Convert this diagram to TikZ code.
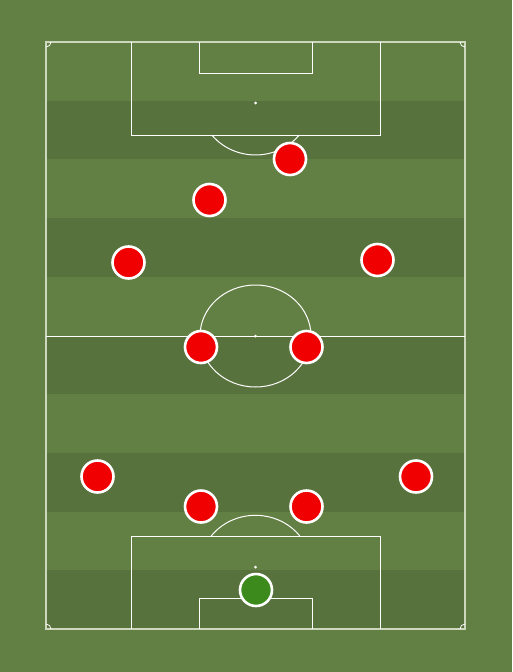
\documentclass[tikz,border=0pt]{standalone}
\definecolor{pitchlight}{RGB}{99,128,68}
\definecolor{pitchdark}{RGB}{88,114,62}
\definecolor{playerred}{RGB}{240,0,0}
\definecolor{keepergreen}{RGB}{60,138,28}
\definecolor{outerline}{RGB}{205,215,190}
\tikzset{
  pline/.style={draw=white, line width=1pt},
  oline/.style={draw=outerline, line width=1.2pt},
  player/.style={circle, draw=white, line width=2.6pt, fill=playerred, minimum size=32pt, inner sep=0pt},
  keeper/.style={player, fill=keepergreen},
  spot/.style={fill=white},
}
\begin{document}
\begin{tikzpicture}[x=1pt,y=-1pt]
\useasboundingbox (0,0) rectangle (512,672);
\fill[pitchlight] (0,0) rectangle (512,672);
% stripes
\foreach \i in {1,3,5,7,9} {
  \fill[pitchdark] (46,{42+\i*58.7}) rectangle (465,{42+(\i+1)*58.7});
}
% outer boundary
\draw[oline] (46,42) rectangle (465,629);
% corner arcs
\draw[pline,line width=0.8pt] (46,47) arc[start angle=90,end angle=0,radius=5];
\draw[pline,line width=0.8pt] (460,42) arc[start angle=180,end angle=90,radius=5];
\draw[pline,line width=0.8pt] (51,629) arc[start angle=0,end angle=-90,radius=5];
\draw[pline,line width=0.8pt] (465,624) arc[start angle=270,end angle=180,radius=5];
% halfway line and centre circle
\draw[pline] (46,336) -- (465,336);
\draw[pline] (255.5,336) ellipse[x radius=55.5,y radius=51];
\fill[spot] (255.5,336) circle[radius=1.5];
% top penalty area
\draw[pline] (131,42) -- (131,135) -- (380,135) -- (380,42);
\draw[pline] (199,42) -- (199,73) -- (312,73) -- (312,42);
\fill[spot] (255.5,103) circle[radius=1.5];
\draw[pline] (211.8,135) arc[start angle=142,end angle=38,x radius=55.5,y radius=52];
% bottom penalty area
\draw[pline] (131,629) -- (131,536) -- (380,536) -- (380,629);
\draw[pline] (199,629) -- (199,598) -- (312,598) -- (312,629);
\fill[spot] (255.5,567) circle[radius=1.5];
\draw[pline] (211.2,536) arc[start angle=217,end angle=323,x radius=55.5,y radius=52];
% players
\node[player] (p1) at (290,159) {};
\node[player] (p2) at (209.5,200) {};
\node[player] (p3) at (128.5,262.5) {};
\node[player] (p4) at (377.5,260) {};
\node[player] (p5) at (201,347) {};
\node[player] (p6) at (306.5,347) {};
\node[player] (p7) at (97.5,476.5) {};
\node[player] (p8) at (416,476.5) {};
\node[player] (p9) at (201,506.5) {};
\node[player] (p10) at (306.5,506.5) {};
\node[keeper] (gk) at (256,590) {};
\end{tikzpicture}
\end{document}
